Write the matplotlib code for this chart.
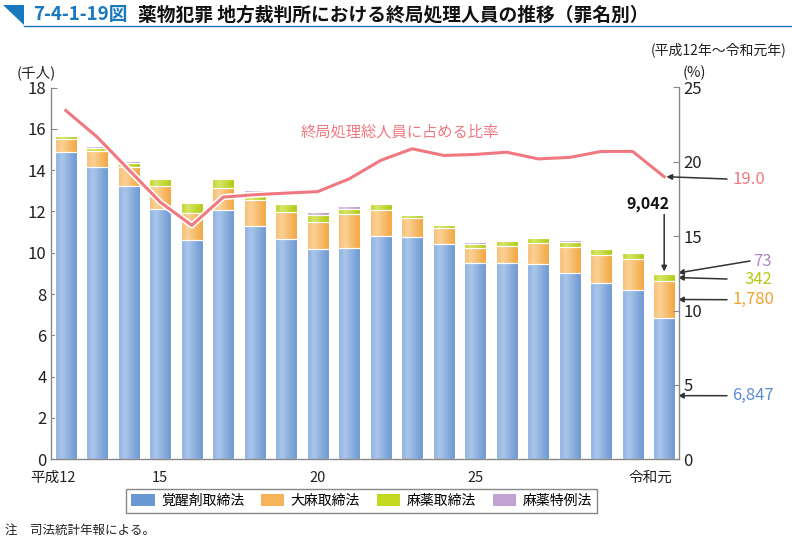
import matplotlib
matplotlib.use("Agg")
import matplotlib.pyplot as plt
import matplotlib.patheffects as pe
from matplotlib.colors import LinearSegmentedColormap
from matplotlib.patches import Patch, Polygon
from matplotlib.lines import Line2D
import numpy as np

plt.rcParams['font.family'] = ['Noto Sans CJK JP', 'DejaVu Sans']

# 平成12年～令和元年 (千人)
years = ['平成12', '13', '14', '15', '16', '17', '18', '19', '20', '21',
         '22', '23', '24', '25', '26', '27', '28', '29', '30', '令和元']
stimulants = [14.90, 14.16, 13.22, 12.14, 10.60, 12.08, 11.29, 10.66, 10.16, 10.24,
              10.80, 10.77, 10.40, 9.52, 9.52, 9.47, 9.03, 8.53, 8.18, 6.847]
cannabis = [0.61, 0.77, 0.94, 1.10, 1.32, 1.06, 1.27, 1.29, 1.34, 1.65,
            1.28, 0.89, 0.81, 0.72, 0.82, 1.01, 1.24, 1.34, 1.51, 1.780]
narcotics = [0.16, 0.15, 0.18, 0.32, 0.47, 0.42, 0.31, 0.39, 0.35, 0.25,
             0.26, 0.18, 0.11, 0.18, 0.21, 0.21, 0.24, 0.32, 0.32, 0.342]
special = [0.04, 0.10, 0.09, 0.07, 0.09, 0.08, 0.19, 0.08, 0.10, 0.10,
           0.06, 0.05, 0.08, 0.08, 0.09, 0.08, 0.09, 0.05, 0.05, 0.073]
# 終局処理総人員に占める比率 (%)
ratio = [23.45, 21.66, 19.47, 17.29, 15.73, 17.63, 17.79, 17.90, 18.00, 18.86,
         20.10, 20.88, 20.43, 20.50, 20.65, 20.20, 20.30, 20.70, 20.70, 19.0]

series = [
    ('覚醒剤取締法', stimulants, ['#8db0e0', '#aac5ea', '#6996d0'], '#6a98d4'),
    ('大麻取締法', cannabis, ['#f7bd70', '#fbd196', '#f2a43c'], '#f5b45a'),
    ('麻薬取締法', narcotics, ['#bdd420', '#d6e566', '#b0c80c'], '#c4d820'),
    ('麻薬特例法', special, ['#c5a5d6', '#dac4e4', '#b48fc6'], '#c3a3d3'),
]

W, H = 792, 545
fig = plt.figure(figsize=(W / 100, H / 100), dpi=100)


def fx(px):
    return px / W


def fy(py):
    return 1 - py / H


ax = fig.add_axes([fx(50.7), fy(459.3), fx(679.3) - fx(50.7), fy(87.5) - fy(459.3)])
x = np.arange(len(years))
width = 0.7

bottom = np.zeros(len(years))
for name, vals, grad, solid in series:
    vals = np.array(vals)
    cmap = LinearSegmentedColormap.from_list(name, [(0, grad[0]), (0.3, grad[1]), (1, grad[2])])
    bars = ax.bar(x, vals, width, bottom=bottom, color='none', edgecolor='white',
                  linewidth=0.8, zorder=3)
    for b in bars:
        x0, y0 = b.get_x(), b.get_y()
        im = ax.imshow(np.linspace(0, 1, 64).reshape(1, -1), cmap=cmap, aspect='auto',
                       extent=[x0, x0 + b.get_width(), y0, y0 + b.get_height()],
                       zorder=2, interpolation='bilinear')
        im.set_clip_path(b)
    bottom += vals

ax.set_xlim(-0.48, len(years) - 0.52)
ax.set_ylim(0, 18)
ax.set_yticks(range(0, 19, 2))
ax.set_xticks([])
for s in ['top', 'right']:
    ax.spines[s].set_visible(False)
for s in ['left', 'bottom']:
    ax.spines[s].set_color('#888888')
    ax.spines[s].set_linewidth(1.0)
ax.tick_params(axis='y', direction='in', length=4, color='#888888', labelsize=12,
               labelcolor='#222222', pad=3)

# x labels
for i in [0, 3, 8, 13, 19]:
    lab = years[i]
    if i == 0:
        ax.text(i + 0.32, -0.55, lab, ha='right', va='top', fontsize=10.5, color='#222222')
    elif i == 19:
        ax.text(i + 0.25, -0.55, lab, ha='right', va='top', fontsize=10.5, color='#222222')
    else:
        ax.text(i, -0.55, lab, ha='center', va='top', fontsize=10.5, color='#222222')

ax2 = ax.twinx()
ax2.set_ylim(0, 25)
ax2.set_yticks(range(0, 26, 5))
for s in ['top', 'left', 'bottom']:
    ax2.spines[s].set_visible(False)
ax2.spines['right'].set_color('#888888')
ax2.spines['right'].set_linewidth(1.0)
ax2.tick_params(axis='y', direction='in', length=4, color='#888888', labelsize=12,
                labelcolor='#222222', pad=3)

pink = '#f07880'
ax2.plot(x, ratio, color=pink, lw=2.2, zorder=5,
         path_effects=[pe.Stroke(linewidth=4.5, foreground='white'), pe.Normal()])
ax2.text(10.6, 22.0, '終局処理総人員に占める比率', color=pink, fontsize=11, ha='center', va='center')

# annotations for 令和元年
last = len(years) - 1
arrow = dict(arrowstyle='-|>', color='#333333', lw=1.1, mutation_scale=8, shrinkA=0, shrinkB=0)
total = stimulants[-1] + cannabis[-1] + narcotics[-1] + special[-1]
ax.annotate('', xy=(last, total + 0.05), xytext=(last, 11.85), arrowprops=arrow, zorder=6)
ax.text(last - 0.5, 12.35, f'{round(total * 1000):,}', ha='center', va='center', fontsize=11.5,
        fontweight='bold', color='#111111')

ax2.annotate('', xy=(last + 0.07, ratio[-1]), xytext=(fx(727), fy(179)),
             textcoords='figure fraction', arrowprops=arrow, zorder=6)
fig.text(fx(732), fy(179), f'{ratio[-1]:.1f}', color=pink, fontsize=12, ha='left', va='center')

xr = last + 0.44
targets = [
    (stimulants[-1] * 0.45, 395.7, f'{round(stimulants[-1] * 1000):,}', '#5b8bd0', 727, 732, 'left'),
    (stimulants[-1] + cannabis[-1] / 2, 299.7, f'{round(cannabis[-1] * 1000):,}', '#f5a030', 727, 732, 'left'),
    (stimulants[-1] + cannabis[-1] + narcotics[-1] / 2, 279, f'{round(narcotics[-1] * 1000):,}', '#b4c814', 727, 772, 'right'),
    (total - 0.02, 261, f'{round(special[-1] * 1000):,}', '#b083c4', 750, 772, 'right'),
]
for yv, py, lab, col, px0, tx, ha in targets:
    ax.annotate('', xy=(xr, yv), xytext=(fx(px0), fy(py)), textcoords='figure fraction',
                arrowprops=arrow, zorder=6, annotation_clip=False)
    fig.text(fx(tx), fy(py), lab, color=col, fontsize=12, ha=ha, va='center')

# header
blue = '#1a78be'
fig.patches.append(Polygon([(fx(3), fy(5)), (fx(24), fy(5)), (fx(24), fy(25))], closed=True,
                           transform=fig.transFigure, facecolor=blue, edgecolor='none'))
fig.lines.append(Line2D([fx(24), fx(792)], [fy(25.5), fy(25.5)], transform=fig.transFigure,
                        color=blue, lw=1.0))
fig.text(fx(33), fy(15), '7-4-1-19図', color=blue, fontsize=13.5, fontweight='bold',
         ha='left', va='center')
fig.text(fx(138), fy(15), '薬物犯罪 地方裁判所における終局処理人員の推移（罪名別）', color='#111111',
         fontsize=13.5, fontweight='bold', ha='left', va='center')
fig.text(fx(786), fy(50), '(平成12年～令和元年)', fontsize=10, ha='right', va='center', color='#222222')
fig.text(fx(36), fy(73), '(千人)', fontsize=10.5, ha='center', va='center', color='#222222')
fig.text(fx(694), fy(73), '(%)', fontsize=10.5, ha='center', va='center', color='#222222')

handles = [Patch(facecolor=s[3], edgecolor='none', label=s[0]) for s in series]
leg = fig.legend(handles=handles, loc='center', bbox_to_anchor=(fx(361.5), fy(501)), ncol=4,
                 fancybox=False, edgecolor='#888888', fontsize=10, handlelength=1.7,
                 handleheight=0.9, columnspacing=1.2, handletextpad=0.45, borderpad=0.35,
                 framealpha=1)
leg.get_frame().set_linewidth(1.0)

fig.text(fx(5), fy(530), '注　司法統計年報による。', fontsize=9, ha='left', va='center', color='#222222')

fig.savefig('out.png', dpi=100)
